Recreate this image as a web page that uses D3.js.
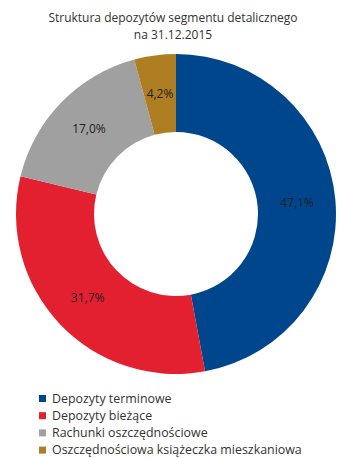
<!DOCTYPE html>
<html>
<head>
<meta charset="utf-8">
<script src="https://cdn.jsdelivr.net/npm/d3@7"></script>
<style>
  body { margin: 0; background: #fff; }
  text { font-family: "Open Sans", "DejaVu Sans", sans-serif; fill: #333; }
</style>
</head>
<body>
<script>
const categories = ["Depozyty terminowe", "Depozyty bieżące", "Rachunki oszczędnościowe", "Oszczędnościowa książeczka mieszkaniowa"];
const values = [47.1, 31.7, 17.0, 4.2];
const labels = ["47,1%", "31,7%", "17,0%", "4,2%"];
const colors = ["#00468C", "#E3202F", "#A0A0A0", "#B07E22"];
const titleLines = ["Struktura depozytów segmentu detalicznego", "na 31.12.2015"];

const width = 339, height = 458;
const cx = 176, cy = 214;
const outerR = 160, innerR = 82;

const svg = d3.select("body").append("svg")
  .attr("width", width)
  .attr("height", height);

// title
svg.append("g")
  .selectAll("text")
  .data(titleLines)
  .enter().append("text")
  .attr("x", 173)
  .attr("y", (d, i) => 22 + i * 17)
  .attr("text-anchor", "middle")
  .style("font-size", "12px")
  .text(d => d);

const pie = d3.pie().sort(null).value(d => d);
const arc = d3.arc().innerRadius(innerR).outerRadius(outerR);
const labelArc = d3.arc().innerRadius(outerR * 0.76).outerRadius(outerR * 0.76);

const chart = svg.append("g")
  .attr("transform", "translate(" + cx + "," + cy + ")");

const slices = chart.selectAll(".slice")
  .data(pie(values))
  .enter().append("g")
  .attr("class", "slice");

slices.append("path")
  .attr("d", arc)
  .style("fill", (d, i) => colors[i]);

slices.append("text")
  .attr("transform", d => "translate(" + labelArc.centroid(d) + ")")
  .attr("text-anchor", "middle")
  .attr("dy", "0.35em")
  .style("font-size", "12px")
  .style("fill", "#222")
  .text((d, i) => labels[i]);

// legend
const legend = svg.append("g")
  .attr("transform", "translate(39,395)");

const rows = legend.selectAll(".row")
  .data(categories)
  .enter().append("g")
  .attr("class", "row")
  .attr("transform", (d, i) => "translate(0," + (i * 17.2) + ")");

rows.append("rect")
  .attr("width", 7)
  .attr("height", 7)
  .style("fill", (d, i) => colors[i]);

rows.append("text")
  .attr("x", 13)
  .attr("y", 7.5)
  .style("font-size", "12.4px")
  .text(d => d);
</script>
</body>
</html>
